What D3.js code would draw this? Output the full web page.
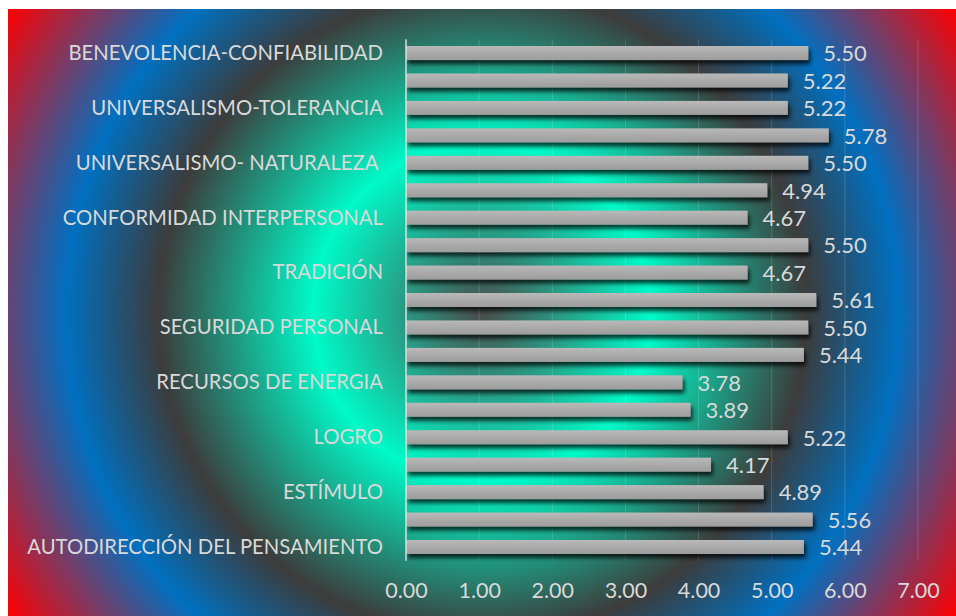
<!DOCTYPE html>
<html>
<head>
<meta charset="utf-8">
<script src="https://cdn.jsdelivr.net/npm/d3@7"></script>
<style>
  html, body { margin: 0; padding: 0; background: #ffffff; }
  svg { display: block; }
</style>
</head>
<body>
<svg id="chart" width="956" height="616"></svg>
<script>
// Categories, top to bottom
const categories = [
  "BENEVOLENCIA-CONFIABILIDAD",
  "BENEVOLENCIA-CUIDADO",
  "UNIVERSALISMO-TOLERANCIA",
  "UNIVERSALISMO-PREOCUPACIÓN",
  "UNIVERSALISMO- NATURALEZA ",
  "HUMILDAD",
  "CONFORMIDAD INTERPERSONAL",
  "CONFORMIDAD CON LAS REGLAS",
  "TRADICIÓN",
  "SEGURIDAD SOCIAL",
  "SEGURIDAD PERSONAL",
  "IMAGEN PÚBLICA",
  "RECURSOS DE ENERGIA",
  "PODER DE DOMINANCIA",
  "LOGRO",
  "HEDONISMO",
  "ESTÍMULO",
  "AUTODIRECCIÓN DE LA ACCIÓN",
  "AUTODIRECCIÓN DEL PENSAMIENTO"
];
const values = [5.50, 5.22, 5.22, 5.78, 5.50, 4.94, 4.67, 5.50, 4.67, 5.61,
                5.50, 5.44, 3.78, 3.89, 5.22, 4.17, 4.89, 5.56, 5.44];
const xTicks = [0, 1, 2, 3, 4, 5, 6, 7];
// Only every other category label is shown (as in the reference)
const shownLabels = categories.filter((d, i) => i % 2 === 0);

const svg = d3.select("#chart");
const W = 956, H = 616;
const area = { x: 8, y: 9, w: W - 8, h: H - 9 };
const plot = { left: 406, right: 918, top: 39.3, bottom: 560.7 };

const defs = svg.append("defs");
const cx = area.x + area.w / 2, cy = area.y + area.h / 2;
const R = Math.sqrt((area.w / 2) ** 2 + (area.h / 2) ** 2);
const rg = defs.append("radialGradient")
  .attr("id", "bg").attr("gradientUnits", "userSpaceOnUse")
  .attr("cx", cx).attr("cy", cy).attr("r", R);
[[0, "#4a4a4a"], [0.30, "#00fac8"], [0.575, "#3c3c3c"], [0.74, "#0070c0"], [1, "#ff0000"]]
  .forEach(([o, c]) => rg.append("stop").attr("offset", o).attr("stop-color", c));

const bg = defs.append("linearGradient").attr("id", "bar")
  .attr("x1", 0).attr("y1", 0).attr("x2", 0).attr("y2", 1);
[[0, "#b9b9b9"], [0.5, "#aaaaaa"], [1, "#9d9d9d"]]
  .forEach(([o, c]) => bg.append("stop").attr("offset", o).attr("stop-color", c));

const sh = defs.append("filter").attr("id", "shadow")
  .attr("x", "-5%").attr("y", "-50%").attr("width", "110%").attr("height", "250%");
sh.append("feGaussianBlur").attr("in", "SourceAlpha").attr("stdDeviation", 2).attr("result", "b");
sh.append("feOffset").attr("in", "b").attr("dx", 2).attr("dy", 4).attr("result", "o");
sh.append("feComponentTransfer").attr("in", "o").attr("result", "t")
  .append("feFuncA").attr("type", "linear").attr("slope", 0.75);
const m = sh.append("feMerge");
m.append("feMergeNode").attr("in", "t");
m.append("feMergeNode").attr("in", "SourceGraphic");

svg.append("rect").attr("x", area.x).attr("y", area.y)
  .attr("width", area.w).attr("height", area.h).attr("fill", "url(#bg)");

const x = d3.scaleLinear().domain([0, 7]).range([plot.left, plot.right]);
const y = d3.scaleBand().domain(categories).range([plot.top, plot.bottom]).paddingInner(0.49).paddingOuter(0.245);

const font = "Lato, 'Open Sans', sans-serif";
const txt = "#d9d9d9";

// gridlines
svg.append("g").selectAll("line").data(xTicks.slice(1)).join("line")
  .attr("x1", d => x(d)).attr("x2", d => x(d))
  .attr("y1", plot.top).attr("y2", plot.bottom)
  .attr("stroke", "rgba(255,255,255,0.16)").attr("stroke-width", 1);

// bars
svg.append("g").selectAll("rect").data(values).join("rect")
  .attr("x", x(0)).attr("y", (d, i) => y(categories[i]))
  .attr("width", d => x(d) - x(0)).attr("height", y.bandwidth())
  .attr("fill", "url(#bar)").attr("filter", "url(#shadow)");

// y axis
const yAxis = svg.append("g").attr("transform", `translate(${plot.left},0)`)
  .call(d3.axisLeft(y).tickValues(shownLabels).tickSize(0).tickPadding(23));
yAxis.select(".domain").attr("stroke", "rgba(230,230,230,0.7)").attr("stroke-width", 2)
  .attr("d", `M0,${plot.top}V${plot.bottom}`);
yAxis.selectAll("text").attr("fill", txt).style("font-family", font).style("font-size", "20.3px")
  .attr("dy", "0.34em").style("white-space", "pre");

// x axis
const xAxis = svg.append("g").attr("transform", `translate(0,${plot.bottom})`)
  .call(d3.axisBottom(x).tickValues(xTicks).tickFormat(d3.format(".2f")).tickSize(0).tickPadding(22));
xAxis.select(".domain").remove();
xAxis.selectAll("text").attr("fill", txt).style("font-family", font).style("font-size", "21.5px");

// value labels
svg.append("g").selectAll("text").data(values).join("text")
  .attr("x", d => x(d) + 15).attr("y", (d, i) => y(categories[i]) + y.bandwidth() / 2)
  .attr("dy", "0.38em").attr("fill", txt).style("font-family", font).style("font-size", "22px")
  .text(d => d3.format(".2f")(d));
</script>
</body>
</html>
